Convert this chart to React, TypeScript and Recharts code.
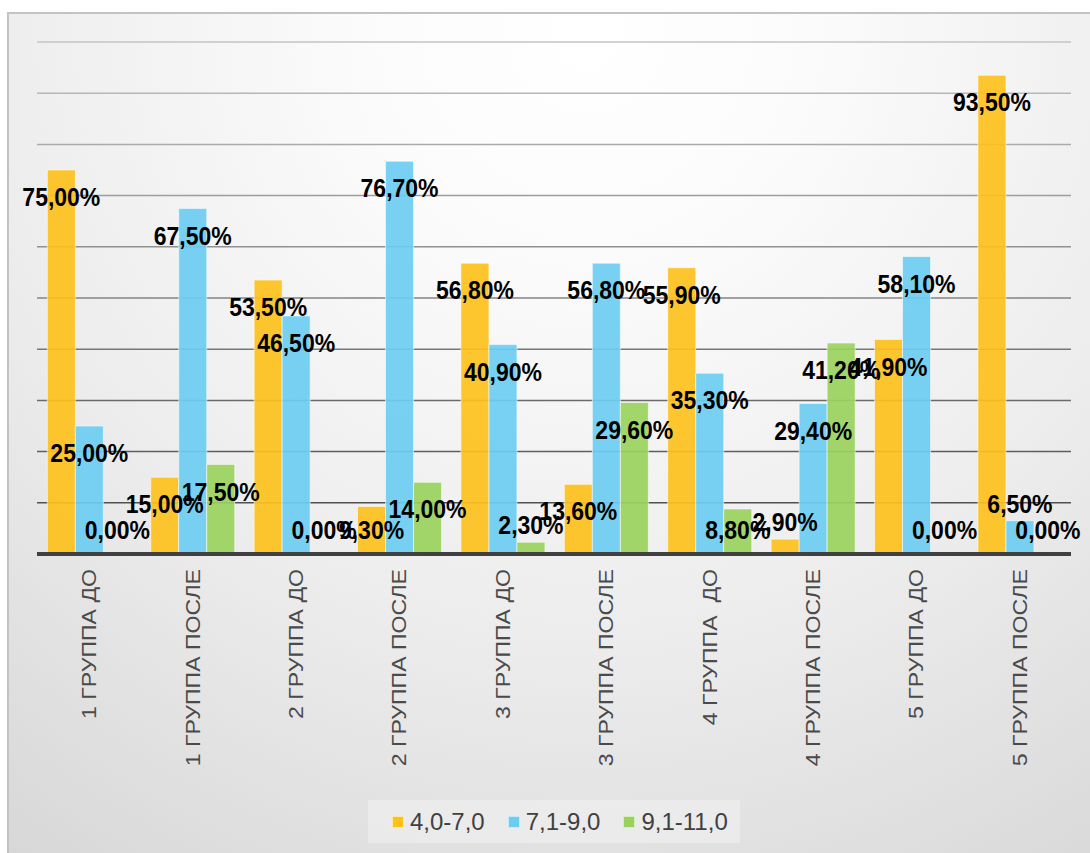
import { BarChart, Bar, XAxis, YAxis, CartesianGrid, Legend, LabelList } from "recharts";

const categories = [
  "1 ГРУППА ДО",
  "1 ГРУППА ПОСЛЕ",
  "2 ГРУППА ДО",
  "2 ГРУППА ПОСЛЕ",
  "3 ГРУППА ДО",
  "3 ГРУППА ПОСЛЕ",
  "4 ГРУППА  ДО",
  "4 ГРУППА ПОСЛЕ",
  "5 ГРУППА ДО",
  "5 ГРУППА ПОСЛЕ",
];

const low = [75, 15, 53.5, 9.3, 56.8, 13.6, 55.9, 2.9, 41.9, 93.5];
const mid = [25, 67.5, 46.5, 76.7, 40.9, 56.8, 35.3, 29.4, 58.1, 6.5];
const high = [0, 17.5, 0, 14.0, 2.3, 29.6, 8.8, 41.2, 0, 0];

const seriesNames = ["4,0-7,0", "7,1-9,0", "9,1-11,0"];
const yTicks = [0, 10, 20, 30, 40, 50, 60, 70, 80, 90, 100];

const COLORS = ["#FDC11C", "#6DCDF1", "#9AD15D"];
const FONT = "'Liberation Sans', Arial, sans-serif";

const data = categories.map((name, i) => ({
  name,
  low: low[i],
  mid: mid[i],
  high: high[i],
}));

const fmt = (v: number) => v.toFixed(2).replace(".", ",") + "%";

// zero bars still need a rectangle so their labels get drawn
const tinyForZero = (v: any) => (Number(v) === 0 ? 0.01 : 0);

function ValueLabel(props: any) {
  const { x, y, width, height, value } = props;
  const h = Math.abs(height);
  const top = height < 0 ? y + height : y;
  const cx = x + width / 2;
  // short non-zero bars: label sits just over the bar, like the original
  const cy = h > 1 && h < 40 ? top - 17 : Math.min(top + 27, 530);
  return (
    <text
      transform={`translate(${cx},${cy}) scale(1,1.1)`}
      textAnchor="middle"
      dy="0.36em"
      fontFamily={FONT}
      fontWeight="bold"
      fontSize={23}
      fill="#000"
    >
      {fmt(Number(value))}
    </text>
  );
}

function CategoryTick(props: any) {
  const { x, y, payload } = props;
  return (
    <text
      transform={`translate(${x},${y + 7}) scale(1,1.1) rotate(-90)`}
      textAnchor="end"
      dy="0.36em"
      fontFamily={FONT}
      fontSize={21}
      fill="#4a4a4a"
      style={{ whiteSpace: "pre" }}
    >
      {payload.value}
    </text>
  );
}

function LegendBox() {
  return (
    <div
      style={{
        width: 372,
        height: 43,
        boxSizing: "border-box",
        paddingLeft: 24,
        background: "rgba(255,255,255,0.3)",
        display: "flex",
        alignItems: "center",
        gap: 23,
        fontFamily: FONT,
        fontSize: 24,
        lineHeight: "24px",
        color: "#404040",
      }}
    >
      {seriesNames.map((n, i) => (
        <div key={n} style={{ display: "flex", alignItems: "center", gap: 6 }}>
          <span
            style={{
              width: 10,
              height: 10,
              background: COLORS[i],
              border: "1px solid rgba(255,255,255,0.6)",
              display: "inline-block",
            }}
          />
          <span style={{ display: "inline-block", transform: "scaleY(1.02)" }}>{n}</span>
        </div>
      ))}
    </div>
  );
}

export default function App() {
  return (
    <div
      style={{
        position: "fixed",
        left: 0,
        top: 0,
        width: 1090,
        height: 853,
        overflow: "hidden",
        background: "#fff",
      }}
    >
      <div
        style={{
          position: "absolute",
          left: 7,
          top: 12,
          width: 1110,
          height: 870,
          border: "2px solid #c3c3c3",
          background:
            "radial-gradient(circle farthest-corner at 52% 2%, #ffffff 0%, #fbfbfb 22%, #ececec 60%, #d6d6d6 100%)",
        }}
      />
      <div style={{ position: "absolute", left: 0, top: 0 }}>
        <BarChart
          width={1090}
          height={853}
          data={data}
          margin={{ top: 42, right: 19, left: 37, bottom: 59 }}
          barCategoryGap="10%"
          barGap={0}
        >
          <defs>
            <linearGradient id="gridGrad" x1="0" y1="42" x2="0" y2="554" gradientUnits="userSpaceOnUse">
              <stop offset="0%" stopColor="#c4c4c4" />
              <stop offset="45%" stopColor="#8a8a8a" />
              <stop offset="100%" stopColor="#444444" />
            </linearGradient>
          </defs>
          <CartesianGrid vertical={false} stroke="url(#gridGrad)" strokeWidth={1.5} />
          <YAxis hide domain={[0, 100]} ticks={yTicks} />
          <XAxis
            dataKey="name"
            height={240}
            interval={0}
            tickLine={false}
            axisLine={{ stroke: "#404040", strokeWidth: 4 }}
            tick={<CategoryTick />}
          />
          <Legend
            layout="horizontal"
            verticalAlign="middle"
            align="center"
            wrapperStyle={{ top: 800, left: 368, width: 372, height: 43 }}
            content={<LegendBox />}
          />
          <Bar dataKey="low" name={seriesNames[0]} fill={COLORS[0]} fillOpacity={0.92} stroke="rgba(255,255,255,0.55)" strokeWidth={1} minPointSize={tinyForZero} isAnimationActive={false}>
            <LabelList dataKey="low" content={<ValueLabel />} />
          </Bar>
          <Bar dataKey="mid" name={seriesNames[1]} fill={COLORS[1]} fillOpacity={0.92} stroke="rgba(255,255,255,0.55)" strokeWidth={1} minPointSize={tinyForZero} isAnimationActive={false}>
            <LabelList dataKey="mid" content={<ValueLabel />} />
          </Bar>
          <Bar dataKey="high" name={seriesNames[2]} fill={COLORS[2]} fillOpacity={0.92} stroke="rgba(255,255,255,0.55)" strokeWidth={1} minPointSize={tinyForZero} isAnimationActive={false}>
            <LabelList dataKey="high" content={<ValueLabel />} />
          </Bar>
        </BarChart>
      </div>
    </div>
  );
}
